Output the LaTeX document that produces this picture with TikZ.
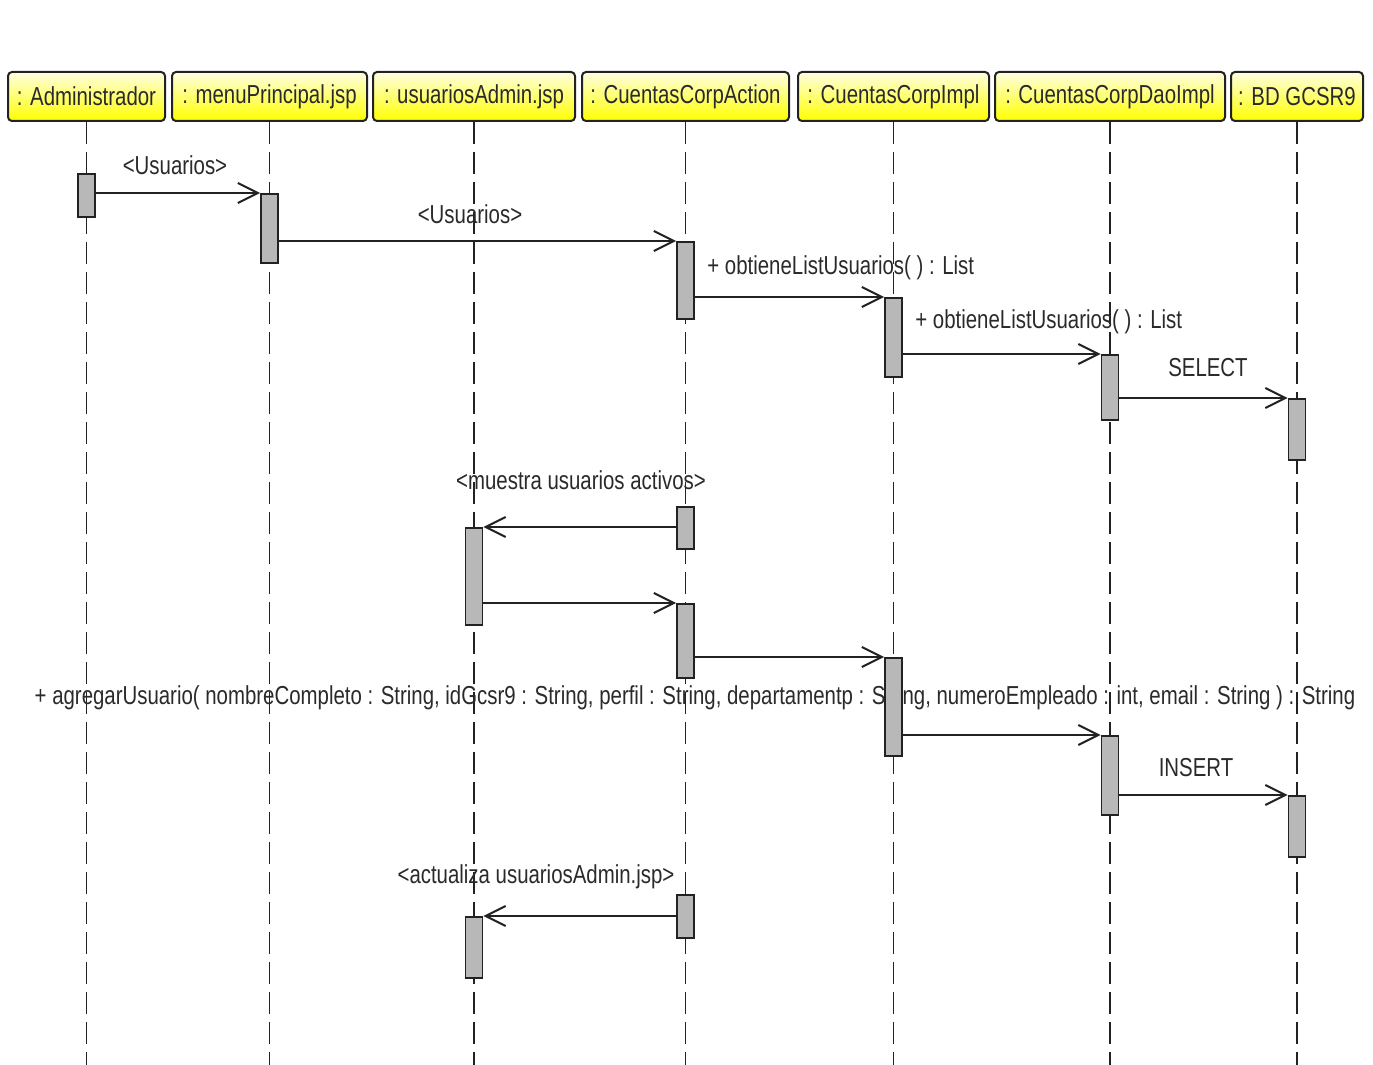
\documentclass[tikz,border=0pt]{standalone}
\usepackage{fontspec}
\setmainfont{Liberation Sans}[FakeStretch=0.785]
\usetikzlibrary{arrows.meta,positioning}
\definecolor{linegray}{HTML}{222222}
\definecolor{textgray}{HTML}{2A2A2A}
\definecolor{actgray}{HTML}{B8B8B8}
\tikzset{
  head/.style={draw=linegray,line width=1pt,rounded corners=2pt,top color=yellow!12,bottom color=yellow,
    minimum height=24.5pt,inner sep=0pt},
  lifeline/.style={draw=linegray,line width=0.9pt,dash pattern=on 11pt off 4pt},
  actbox/.style={draw=linegray,line width=0.9pt,fill=actgray,minimum width=8.5pt,inner sep=0pt},
  msg/.style={draw=linegray,line width=1pt,-{Straight Barb[length=10pt,width=10pt]}},
  lbl/.style={inner sep=0pt}
}
\newcommand\actbar[4]{\node[actbox,anchor=north,minimum height={(#4-#3)*0.5pt}] (#1) at (#2.south |- 0,#3) {};}

\begin{document}
\begin{tikzpicture}[x=0.5pt,y=-0.5pt,font=\fontsize{13}{15}\selectfont,text=textgray]
  \useasboundingbox (0,0) rectangle (1373,1065);
  \coordinate (bottom) at (0,1065);
  \foreach \nm/\x/\w/\lab in {adm/86.5/157/Administrador, menu/269.5/195/menuPrincipal.jsp,
      ua/474/202/usuariosAdmin.jsp, action/685.5/207/CuentasCorpAction, impl/893.5/191/CuentasCorpImpl,
      dao/1110/230/CuentasCorpDaoImpl, bd/1297/132/BD GCSR9}{
    \node[head,minimum width=\w*0.5pt] (\nm) at (\x,96.5) {: \lab};
    \draw[lifeline] (\nm.south) -- (\nm.south |- bottom);
  }

  \node[lbl] (l1) at (175,165) {<Usuarios>};
  \node[lbl] (l2) at (470,214) {<Usuarios>};
  \node[lbl,anchor=west] (l3) at (707,268) {+ obtieneListUsuarios( ) : List};
  \node[lbl,anchor=west] (l4) at (915,322) {+ obtieneListUsuarios( ) : List};
  \node[lbl] (l5) at (1208,368) {SELECT};
  \node[lbl] (l6) at (581,480) {<muestra usuarios activos>};
  \node[lbl] (l7) at (695,698) {+ agregarUsuario( nombreCompleto : String, idGcsr9 : String, perfil : String, departamentp : String, numeroEmpleado : int, email : String ) : String};
  \node[lbl] (l8) at (1196,768) {INSERT};
  \node[lbl] (l9) at (536,877) {<actualiza usuariosAdmin.jsp>};

  \actbar{adm1}{adm}{173}{216}
  \actbar{menu1}{menu}{193}{262}
  \actbar{act1}{action}{241}{318}
  \actbar{impl1}{impl}{297}{376}
  \actbar{dao1}{dao}{354}{419}
  \actbar{bd1}{bd}{398}{459}
  \actbar{act2}{action}{506}{548}
  \actbar{ua1}{ua}{527}{624}
  \actbar{act3}{action}{603}{677}
  \actbar{impl2}{impl}{657}{755}
  \actbar{dao2}{dao}{735}{814}
  \actbar{bd2}{bd}{795}{856}
  \actbar{act4}{action}{894}{937}
  \actbar{ua2}{ua}{916}{977}

  \foreach \s/\t in {adm1/menu1, menu1/act1, act1/impl1, impl1/dao1, dao1/bd1,
      ua1/act3, act3/impl2, impl2/dao2, dao2/bd2}
    \draw[msg] (\s.east |- \t.north) -- (\t.north west);
  \foreach \s/\t in {act2/ua1, act4/ua2}
    \draw[msg] (\s.west |- \t.north) -- (\t.north east);
\end{tikzpicture}
\end{document}
